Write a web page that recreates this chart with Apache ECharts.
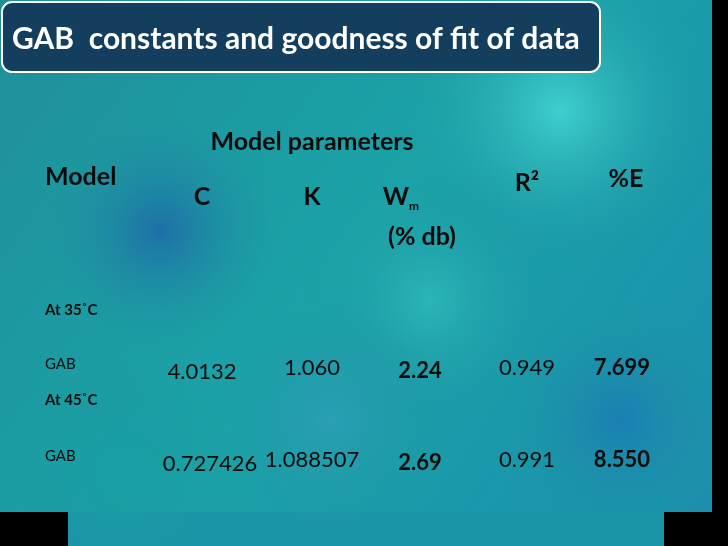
<!DOCTYPE html>
<html lang="en">
<head>
<meta charset="UTF-8">
<title>GAB constants</title>
<script src="https://cdn.jsdelivr.net/npm/echarts@6/dist/echarts.min.js"></script>
<style>
  html, body { margin: 0; padding: 0; background: #000; }
  #chart { width: 728px; height: 546px; }
</style>
</head>
<body>
<div id="chart"></div>
<script>
var title = 'GAB  constants and goodness of fit of data';
var headers = ['C', 'K', 'W', 'R²', '%E'];
var groups = ['At 35˚C', 'At 45˚C'];
var models = ['GAB', 'GAB'];
var rowC = ['4.0132', '0.727426'];
var rowK = ['1.060', '1.088507'];
var rowWm = ['2.24', '2.69'];
var rowR2 = ['0.949', '0.991'];
var rowE = ['7.699', '8.550'];

var FONT = 'Lato, "Open Sans", sans-serif';
var chart = echarts.init(document.getElementById('chart'));

function txt(x, y, s, size, bold, align, color) {
  return {
    type: 'text', x: x, y: y, z: 10,
    style: {
      text: s, fill: color || '#0b0b0b', font: (bold ? 'bold ' : '') + size + 'px ' + FONT,
      align: align || 'center', verticalAlign: 'middle'
    }
  };
}

var g = [];
// background
g.push({ type: 'rect', shape: { x: 0, y: 0, width: 712, height: 512 },
  style: { fill: new echarts.graphic.LinearGradient(0, 0, 1, 1, [
    { offset: 0, color: '#1f8f9a' }, { offset: 0.5, color: '#1aa3a8' }, { offset: 1, color: '#1a8fae' }]) } });
g.push({ type: 'rect', shape: { x: 68, y: 512, width: 596, height: 34 }, style: { fill: '#1a95a8' } });
var blobs = [[560, 110, 160, '#3fd0cf'], [160, 230, 120, '#1e6fa8'], [430, 300, 130, '#2bb5b8'],
  [620, 420, 120, '#1a7fb4'], [120, 470, 110, '#17a0a6'], [330, 420, 120, '#2a9fb5']];
blobs.forEach(function (b) {
  g.push({ type: 'circle', shape: { cx: b[0], cy: b[1], r: b[2] },
    style: { fill: new echarts.graphic.RadialGradient(0.5, 0.5, 0.5, [
      { offset: 0, color: b[3] }, { offset: 1, color: 'rgba(30,150,160,0)' }]) } });
});
// black margins
g.push({ type: 'rect', z: 4, shape: { x: 712, y: 0, width: 16, height: 546 }, style: { fill: '#000' } });
g.push({ type: 'rect', z: 4, shape: { x: 0, y: 512, width: 68, height: 34 }, style: { fill: '#000' } });
g.push({ type: 'rect', z: 4, shape: { x: 664, y: 512, width: 64, height: 34 }, style: { fill: '#000' } });
// title box
g.push({ type: 'rect', shape: { x: 2, y: 2, width: 598, height: 70, r: 10 },
  style: { fill: '#143e5e', stroke: '#ffffff', lineWidth: 2 }, z: 5 });
g.push(txt(12, 39, title, 30, true, 'left', '#ffffff'));

// headers
var colX = [202, 312, 396, 527, 626];
g.push(txt(312, 142, 'Model parameters', 25, true));
g.push(txt(45, 177, 'Model', 25, true, 'left'));
g.push(txt(colX[0], 197, headers[0], 25, true));
g.push(txt(colX[1], 197, headers[1], 25, true));
g.push(txt(colX[2], 197, headers[2], 25, true));
g.push(txt(colX[2] + 13, 206, 'm', 12, true, 'left'));
g.push(txt(422, 237, '(% db)', 25, true));
g.push(txt(colX[3], 183, headers[3], 25, true));
g.push(txt(colX[4], 179, headers[4], 25, true));

// rows
var groupY = [310, 400], rowY = [368, 460];
for (var i = 0; i < models.length; i++) {
  g.push(txt(45, groupY[i], groups[i], 15, true, 'left'));
  g.push(txt(45, rowY[i] - 4, models[i], 15, false, 'left'));
  g.push(txt(colX[0] + (i ? 8 : 0), rowY[i] + 4, rowC[i], 22, false));
  g.push(txt(colX[1], rowY[i], rowK[i], 22, false));
  g.push(txt(420, rowY[i] + 3, rowWm[i], 22, true));
  g.push(txt(colX[3], rowY[i], rowR2[i], 22, false));
  g.push(txt(622, rowY[i], rowE[i], 22, true));
}

chart.setOption({ backgroundColor: '#000', animation: false, graphic: g });
</script>
</body>
</html>
